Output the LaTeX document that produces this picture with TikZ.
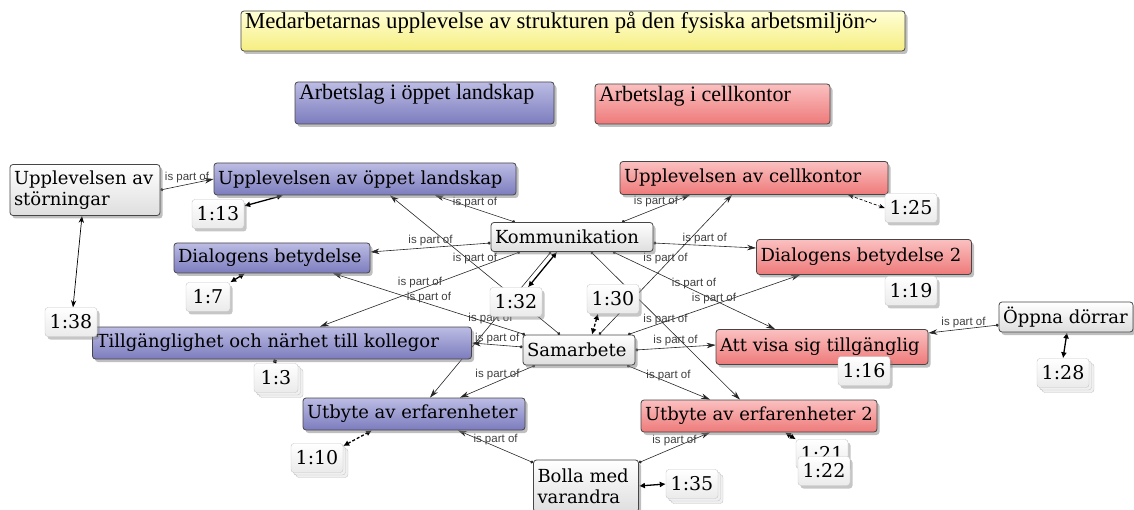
\documentclass[tikz,border=0pt]{standalone}
\usepackage{fontspec}
\setmainfont{DejaVu Serif}
\newfontfamily\titlefont{Liberation Serif}
\newfontfamily\linkfont{Liberation Sans}
\usepackage{tikz}
\usetikzlibrary{arrows.meta, shadows, backgrounds, calc}
\definecolor{boxline}{RGB}{70,70,70}
\definecolor{blueTop}{RGB}{188,188,228}
\definecolor{blueBot}{RGB}{124,124,190}
\definecolor{redTop}{RGB}{251,192,192}
\definecolor{redBot}{RGB}{238,122,122}
\definecolor{grayBot}{RGB}{222,222,222}
\definecolor{yelTop}{RGB}{255,255,214}
\definecolor{yelBot}{RGB}{246,238,128}
% fixed-width, left-aligned box text
\newcommand\codetext[2]{\makebox[#1][l]{#2}}

\tikzset{
  codebox/.style={draw=boxline, line width=0.8pt, rounded corners=3pt, inner sep=4pt,
    align=left, font=\fontsize{18}{21}\selectfont,
    drop shadow={shadow xshift=2.5pt, shadow yshift=-3pt, opacity=.5}},
  codeopen/.style={codebox, top color=blueTop, bottom color=blueBot},
  codecell/.style={codebox, top color=redTop, bottom color=redBot},
  codeplain/.style={codebox, top color=white, bottom color=grayBot},
  titlebox/.style={codebox, font=\titlefont\fontsize{22}{25}\selectfont},
  quote/.style={draw=gray!45, rounded corners=3pt, inner sep=3pt, minimum height=29pt,
    minimum width=52pt, font=\fontsize{19}{21}\selectfont, top color=white, bottom color=gray!16,
    drop shadow={shadow xshift=2.5pt, shadow yshift=-3pt, opacity=.45}},
  quotestack/.style={quote, double copy shadow={shadow xshift=2.5pt, shadow yshift=-2.5pt,
    fill=gray!12, draw=gray!45}},
  isa/.style={{Circle[length=3pt]}-{Stealth[length=9pt, width=5.5pt]}, line width=0.6pt, black!85},
  qlink/.style={{Latex[length=6pt, width=6pt]}-{Latex[length=6pt, width=6pt]}, line width=1.3pt, black},
  lbl/.style={font=\linkfont\fontsize{11.5}{12}\selectfont, text=black!75, inner sep=1pt, above}
}

\begin{document}
\begin{tikzpicture}[x=1pt, y=-1pt]
\useasboundingbox (0,0) rectangle (1134,510);

% Title and groups
\node[titlebox, font=\titlefont\fontsize{22.8}{25}\selectfont, top color=yelTop, bottom color=yelBot, text height=14pt, text depth=18pt] (title) at (573,31)
  {\codetext{656pt}{Medarbetarnas upplevelse av strukturen på den fysiska arbetsmiljön\textasciitilde}};
\node[titlebox, top color=blueTop, bottom color=blueBot, text height=14pt, text depth=20pt] (gopen) at (424.5,103)
  {\codetext{251pt}{Arbetslag i öppet landskap}};
\node[titlebox, top color=redTop, bottom color=redBot, text height=14pt, text depth=18pt] (gcell) at (712.5,104)
  {\codetext{227pt}{Arbetslag i cellkontor}};

% Codes
\node[codeplain, minimum height=51pt] (stor) at (85,190) {\codetext{142pt}{Upplevelsen av}\\\codetext{142pt}{störningar}};
\node[codeopen, minimum height=32pt] (oppet) at (365,179) {\codetext{294pt}{Upplevelsen av öppet landskap}};
\node[codecell, minimum height=33pt] (cell) at (754,178) {\codetext{260pt}{Upplevelsen av cellkontor}};
\node[codeplain, minimum height=29pt] (komm) at (572,237) {\codetext{154pt}{Kommunikation}};
\node[codeopen, minimum height=30pt] (dial) at (272,258) {\codetext{188pt}{Dialogens betydelse}};
\node[codecell, minimum height=35pt] (dial2) at (864,257) {\codetext{207pt}{Dialogens betydelse 2}};
\node[codeopen, minimum height=32pt] (till) at (282,343) {\codetext{371pt}{Tillgänglighet och närhet till kollegor}};
\node[codeplain, minimum height=30pt] (samar) at (579,350) {\codetext{104pt}{Samarbete}};
\node[codecell, minimum height=35pt] (visa) at (822,347) {\codetext{204pt}{Att visa sig tillgänglig}};
\node[codeplain, minimum height=30pt] (oppna) at (1066,317) {\codetext{126pt}{Öppna dörrar}};
\node[codeopen, minimum height=32pt] (utb) at (414,414) {\codetext{214pt}{Utbyte av erfarenheter}};
\node[codecell, minimum height=32pt] (utb2) at (759,416) {\codetext{228pt}{Utbyte av erfarenheter 2}};
\node[codeplain, minimum height=52pt] (bolla) at (586,486) {\codetext{97pt}{Bolla med}\\\codetext{97pt}{varandra}};

% Quotations
\node[quote] (q13) at (218,214) {1:13};
\node[quote] (q25) at (911,208) {1:25};
\node[quote, minimum width=44pt] (q7) at (208,297) {1:7};
\node[quote] (q19) at (911,291) {1:19};
\node[quote] (q32) at (516,302) {1:32};
\node[quote] (q30) at (613,299) {1:30};
\node[quote] (q38) at (71,322) {1:38};
\node[quotestack, minimum width=44pt] (q3) at (276,378) {1:3};
\node[quote] (q16) at (864,371) {1:16};
\node[quotestack] (q28) at (1063,373) {1:28};
\node[quotestack] (q10) at (317,458) {1:10};
\node[quote] (q21) at (822,454) {1:21};
\node[quote] (q22) at (824,471) {1:22};
\node[quotestack] (q35) at (692,484) {1:35};

\begin{scope}[on background layer]
% is part of
\draw[isa] (stor.east) -- (oppet.west) node[lbl, midway] {is part of};
\draw[isa] ([xshift=-57pt]komm.north) -- ([xshift=70pt]oppet.south) node[lbl, midway] {is part of};
\draw[isa] ([xshift=50pt]komm.north) -- ([xshift=-64pt]cell.south) node[lbl, midway] {is part of};
\draw[isa] ([yshift=-6pt]komm.west) -- ([yshift=6pt]dial.east) node[lbl, midway] {is part of};
\draw[isa] ([yshift=-6pt]komm.east) -- ([yshift=9pt]dial2.west) node[lbl, midway] {is part of};
\draw[isa] ([xshift=-52pt]komm.south) -- ([xshift=38pt]till.north) node[lbl, midway] {is part of};
\draw[isa] ([xshift=41pt]komm.south) -- ([xshift=-47pt]visa.north) node[lbl, midway] {is part of};
\draw[isa] ([xshift=19pt]komm.south) -- ([xshift=-19pt]utb2.north) node[lbl, midway] {is part of};
\draw[isa] ([xshift=-21pt]komm.south) -- ([xshift=16pt]utb.north) node[lbl, midway] {is part of};
\draw[isa] ([xshift=-19pt]samar.north) -- ([xshift=25pt]oppet.south) node[lbl, midway] {is part of};
\draw[isa] ([xshift=20pt]samar.north) -- ([xshift=-22pt]cell.south) node[lbl, midway] {is part of};
\draw[isa] ([xshift=-54pt]samar.north) -- ([xshift=61pt]dial.south) node[lbl, midway] {is part of};
\draw[isa] ([xshift=49pt]samar.north) -- ([xshift=-64pt]dial2.south) node[lbl, midway] {is part of};
\draw[isa] ([yshift=3pt]samar.west) -- (till.east) node[lbl, midway] {is part of};
\draw[isa] (samar.east) -- ([yshift=2pt]visa.west) node[lbl, midway] {is part of};
\draw[isa] ([xshift=-44pt]samar.south) -- ([xshift=46pt]utb.north) node[lbl, midway] {is part of};
\draw[isa] ([xshift=48pt]samar.south) -- ([xshift=-49pt]utb2.north) node[lbl, midway] {is part of};
\draw[isa] ([yshift=-3pt]bolla.north west) -- ([xshift=44pt]utb.south) node[lbl, midway] {is part of};
\draw[isa] ([yshift=-3pt]bolla.north east) -- ([xshift=-49pt]utb2.south) node[lbl, midway] {is part of};
\draw[isa] ([yshift=-8pt]oppna.west) -- ([yshift=14pt]visa.east) node[lbl, midway] {is part of};

% quotation links
\draw[{Stealth[length=7pt]}-{Stealth[length=7pt]}, line width=0.7pt] ([xshift=-3pt]stor.south) -- ([xshift=2pt]q38.north);
\draw[qlink] ([yshift=8pt]q13.east) -- ([xshift=-82pt]oppet.south);
\draw[qlink] (q7.north east) -- ([xshift=-27pt]dial.south);
\draw[qlink, -{Circle[length=4pt]}] (q3.north) -- ([xshift=-8pt]till.south);
\draw[qlink, densely dashed] ([yshift=12pt]q10.east) -- ([xshift=-42pt]utb.south);
\draw[{Stealth[length=6pt]}-{Stealth[length=6pt]}, line width=0.7pt, densely dashed] (q25.west) -- ([xshift=94pt]cell.south);
\draw[qlink] (q28.north) -- ([xshift=1pt]oppna.south);
\draw[qlink] (q21.north west) -- ([xshift=26pt]utb2.south);
\draw[qlink] (q35.west) -- (bolla.east);
\draw[qlink] ([xshift=12pt]q32.north) -- ([xshift=-15pt]komm.south);
\draw[qlink, densely dashed] ([xshift=-15pt]q30.south) -- ([xshift=13pt]samar.north);
\end{scope}
\end{tikzpicture}
\end{document}
